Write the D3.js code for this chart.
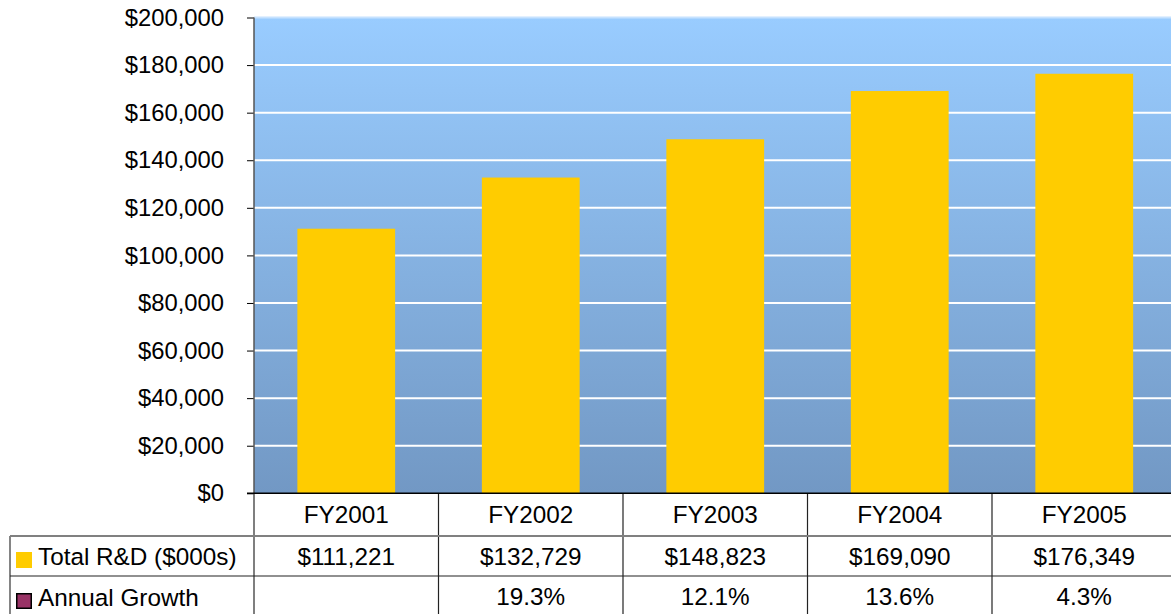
<!DOCTYPE html>
<html>
<head>
<meta charset="utf-8">
<script src="https://cdn.jsdelivr.net/npm/d3@7"></script>
<style>
  html, body { margin: 0; padding: 0; background: #fff; }
  svg { display: block; font-family: Arial, "Liberation Sans", sans-serif; }
</style>
</head>
<body>
<div id="chart"></div>
<script>
// Chart data
const categories = ["FY2001", "FY2002", "FY2003", "FY2004", "FY2005"];
const totalRD = [111221, 132729, 148823, 169090, 176349];
const growthLabels = ["", "19.3%", "12.1%", "13.6%", "4.3%"];
const yTicks = [0, 20000, 40000, 60000, 80000, 100000, 120000, 140000, 160000, 180000, 200000];
const seriesNames = ["Total R&D ($000s)", "Annual Growth"];
const seriesColors = ["#FFCC00", "#993366"];

function draw_chart(chartID) {
    const width = 1171, height = 614;
    const left = 254, right = 1176.5, top = 17.5, bottom = 493.3;
    const axisFont = 23.8;
    const tableFont = 24.3;

    d3.select(chartID).html("");
    const svg = d3.select(chartID).append("svg")
        .attr("width", width)
        .attr("height", height);

    // Plot background gradient
    const grad = svg.append("defs").append("linearGradient")
        .attr("id", "bg")
        .attr("x1", 0).attr("y1", 0).attr("x2", 0).attr("y2", 1);
    grad.append("stop").attr("offset", "0%").attr("stop-color", "#99CCFF");
    grad.append("stop").attr("offset", "100%").attr("stop-color", "#7298C4");

    const x = d3.scaleBand()
        .domain(categories)
        .range([left, right])
        .paddingInner(0.47)
        .paddingOuter(0.235);

    const y = d3.scaleLinear()
        .domain([0, 200000])
        .range([bottom, top]);

    svg.append("rect")
        .attr("x", left)
        .attr("y", top)
        .attr("width", right - left)
        .attr("height", bottom - top)
        .attr("fill", "url(#bg)");

    // White gridlines
    svg.selectAll(".grid")
        .data(yTicks.filter(d => d > 0))
        .enter()
        .append("line")
        .attr("x1", left)
        .attr("x2", right)
        .attr("y1", d => y(d))
        .attr("y2", d => y(d))
        .attr("stroke", d => d === 200000 ? "#c6e2ff" : "#ffffff")
        .attr("stroke-width", 2);

    // Bars
    svg.selectAll(".bar")
        .data(categories)
        .enter()
        .append("rect")
        .attr("x", d => x(d))
        .attr("y", (d, i) => y(totalRD[i]))
        .attr("width", x.bandwidth())
        .attr("height", (d, i) => bottom - y(totalRD[i]))
        .attr("fill", seriesColors[0]);

    // Y axis
    const yAxis = svg.append("g")
        .attr("transform", `translate(${left},0)`)
        .call(d3.axisLeft(y)
            .tickValues(yTicks)
            .tickSize(7)
            .tickPadding(23)
            .tickFormat(d => "$" + d3.format(",")(d)));
    yAxis.select(".domain").remove();
    yAxis.selectAll(".tick line").attr("stroke", "#000");
    yAxis.selectAll(".tick text")
        .attr("fill", "#000")
        .style("font-size", axisFont + "px")
        .style("font-family", "Arial, 'Liberation Sans', sans-serif");

    // Data table
    const step = x.step();
    const gap = (step - x.bandwidth()) / 2;
    const bounds = categories.map(c => x(c) - gap).concat([right]);
    const row1 = 536, row2 = 576;

    // vertical axis line / table left line
    svg.append("line")
        .attr("x1", left).attr("x2", left)
        .attr("y1", top).attr("y2", height)
        .attr("stroke", "#555").attr("stroke-width", 1.5);

    svg.selectAll(".vline")
        .data(bounds.slice(1, 5))
        .enter()
        .append("line")
        .attr("x1", d => d).attr("x2", d => d)
        .attr("y1", bottom).attr("y2", height)
        .attr("stroke", "#222").attr("stroke-width", 1.2);

    // legend column left border
    svg.append("line")
        .attr("x1", 10).attr("x2", 10)
        .attr("y1", row1).attr("y2", height)
        .attr("stroke", "#333").attr("stroke-width", 1.2);

    svg.append("line")
        .attr("x1", 10).attr("x2", right)
        .attr("y1", row1).attr("y2", row1)
        .attr("stroke", "#808080").attr("stroke-width", 2);

    svg.append("line")
        .attr("x1", 10).attr("x2", right)
        .attr("y1", row2).attr("y2", row2)
        .attr("stroke", "#222").attr("stroke-width", 1.2);

    // x axis line
    svg.append("line")
        .attr("x1", left - 7).attr("x2", right)
        .attr("y1", bottom).attr("y2", bottom)
        .attr("stroke", "#000").attr("stroke-width", 1.5);

    const textStyle = sel => sel
        .attr("text-anchor", "middle")
        .style("font-size", tableFont + "px")
        .attr("fill", "#000");

    svg.selectAll(".cat")
        .data(categories)
        .enter()
        .append("text")
        .attr("x", d => x(d) + x.bandwidth() / 2)
        .attr("y", 523)
        .text(d => d)
        .call(textStyle);

    svg.selectAll(".val")
        .data(totalRD)
        .enter()
        .append("text")
        .attr("x", (d, i) => x(categories[i]) + x.bandwidth() / 2)
        .attr("y", 565)
        .text(d => "$" + d3.format(",")(d))
        .call(textStyle);

    svg.selectAll(".growth")
        .data(growthLabels)
        .enter()
        .append("text")
        .attr("x", (d, i) => x(categories[i]) + x.bandwidth() / 2)
        .attr("y", 605)
        .text(d => d)
        .call(textStyle);

    // Legend keys in table
    const legend = svg.selectAll(".legend")
        .data(seriesNames)
        .enter()
        .append("g")
        .attr("transform", (d, i) => `translate(16, ${i === 0 ? 552 : 593})`);

    legend.append("rect")
        .attr("x", (d, i) => i === 0 ? 0 : 0.75)
        .attr("y", (d, i) => i === 0 ? 0 : 0.75)
        .attr("width", (d, i) => i === 0 ? 16 : 14.5)
        .attr("height", (d, i) => i === 0 ? 16 : 14.5)
        .attr("fill", (d, i) => seriesColors[i])
        .attr("stroke", (d, i) => i === 0 ? "none" : "#000")
        .attr("stroke-width", 1.5);

    legend.append("text")
        .attr("x", 22)
        .attr("y", 13)
        .style("font-size", tableFont + "px")
        .attr("fill", "#000")
        .text(d => d);
}

draw_chart("#chart");
</script>
</body>
</html>
